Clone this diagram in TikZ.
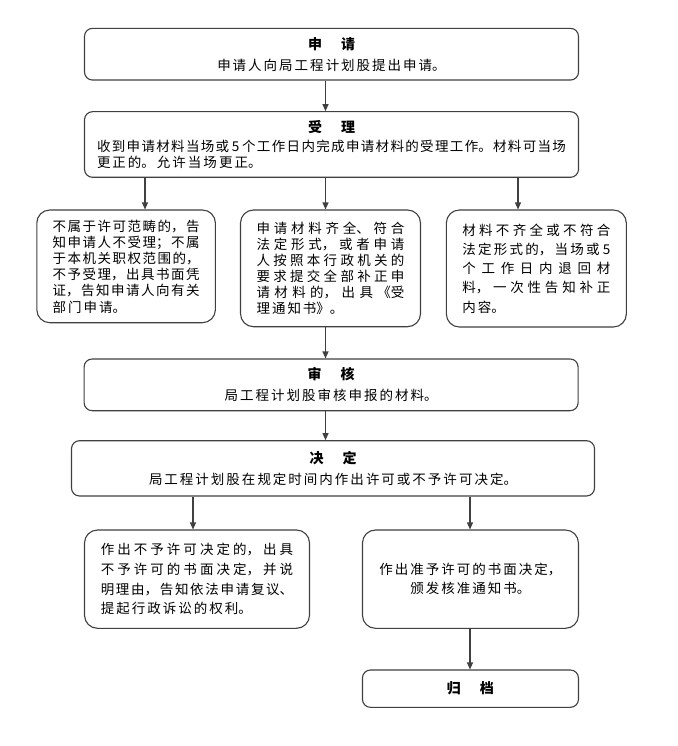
\documentclass[tikz,border=0pt]{standalone}
\usepackage{fontspec}
\setmainfont{Noto Sans CJK SC}
\usepackage{xcolor}
\usepackage{tikz}
\usetikzlibrary{arrows.meta}

\XeTeXlinebreaklocale "zh"
\XeTeXlinebreakskip=2pt plus 5pt minus 2pt
\definecolor{linegray}{HTML}{404040}

\begin{document}
\begin{tikzpicture}[x=1pt, y=-1pt,
        stage/.style={draw=linegray, rounded corners=8pt, line width=1.1pt, inner sep=0pt, align=flush center, minimum width=494pt, text width=494pt, font=\fontsize{13.5}{21}\selectfont},
        note/.style={draw=linegray, rounded corners=13pt, line width=1.1pt, inner sep=0pt, align=justify},
        link/.style={draw=linegray, -{Triangle[length=7pt, width=6pt]}, line width=1.1pt}
        ]

        \path[use as bounding box, fill=white] (0,0) rectangle (677,746);

        % Stages
        \node[stage, minimum height=51.7pt] (apply) at (331.5,54.2) {{\fontsize{14}{21}\selectfont\bfseries 申\hspace{19pt}请}\\申请人向局工程计划股提出申请。};
        \node[stage, minimum height=65.6pt, text width=469pt, align=justify, font=\fontsize{13.5}{15.7}\selectfont] (accept) at (331.5,144.5) {\makebox[\linewidth]{\fontsize{14}{15.7}\selectfont\bfseries 受\hspace{19pt}理}\par\vspace{3.3pt}收到申请材料当场或 5 个工作日内完成申请材料的受理工作。材料可当场\linebreak 更正的。允许当场更正。};

        % Outcomes of acceptance
        \node[note, minimum width=178.6pt, minimum height=112.7pt, text width=147pt, font=\fontsize{13.5}{16.2}\selectfont] (reject) at (126.1,266.35) {不属于许可范畴的，告\linebreak 知申请人不受理；不属\linebreak 于本机关职权范围的，\linebreak 不予受理，出具书面凭\linebreak 证，告知申请人向有关\linebreak 部门申请。};
        \node[note, minimum width=180pt, minimum height=116.7pt, text width=148pt, font=\fontsize{13.5}{15.9}\selectfont] (complete) at (330.5,268.35) {申请材料齐全、符合\linebreak 法定形式，或者申请\linebreak 人按照本行政机关的\linebreak 要求提交全部补正申\linebreak 请材料的，出具《受\linebreak 理通知书》。};
        \node[note, minimum width=180pt, minimum height=117pt, text width=148pt, font=\fontsize{13.5}{19.2}\selectfont] (incomplete) at (536.35,268.5) {材料不齐全或不符合\linebreak 法定形式的，当场或 5\linebreak 个工作日内退回材\linebreak 料，一次性告知补正\linebreak 内容。};

        \node[stage, minimum height=51.7pt] (review) at (331.1,384.85) {{\fontsize{14}{21}\selectfont\bfseries 审\hspace{19pt}核}\\局工程计划股审核申报的材料。};
        \node[stage, minimum width=523pt, text width=523pt, minimum height=55.3pt] (decide) at (333,468.35) {{\fontsize{14}{21}\selectfont\bfseries 决\hspace{19pt}定}\\局工程计划股在规定时间内作出许可或不予许可决定。};

        % Decisions
        \node[note, minimum width=225pt, minimum height=98.3pt, text width=192.4pt, font=\fontsize{13.5}{19.7}\selectfont] (deny) at (197,579.15) {作出不予许可决定的，出具\linebreak 不予许可的书面决定，并说\linebreak 明理由，告知依法申请复议、\linebreak 提起行政诉讼的权利。};
        \node[note, minimum width=216pt, minimum height=98.3pt, text width=216pt, align=flush center, font=\fontsize{13.5}{19.3}\selectfont] (grant) at (470.45,579.15) {作出准予许可的书面决定，\\颁发核准通知书。};
        \node[stage, minimum width=216pt, text width=216pt, minimum height=37.3pt] (archive) at (470.45,688.65) {{\fontsize{14}{21}\selectfont\bfseries 归\hspace{19pt}档}};

        % Arrow columns
        \coordinate (midcol) at (325.5,0);
        \coordinate (leftcol) at (145,0);
        \coordinate (rightcol) at (518,0);
        \coordinate (denycol) at (193,0);
        \coordinate (grantcol) at (470,0);

        % Links
        \draw[link] (apply.south -| midcol) -- (accept.north -| midcol);
        \draw[link] (accept.south -| leftcol) -- (reject.north -| leftcol);
        \draw[link] (accept.south -| midcol) -- (complete.north -| midcol);
        \draw[link] (accept.south -| rightcol) -- (incomplete.north -| rightcol);
        \draw[link] (complete.south -| midcol) -- (review.north -| midcol);
        \draw[link] (review.south -| midcol) -- (decide.north -| midcol);
        \draw[link] (decide.south -| denycol) -- (deny.north -| denycol);
        \draw[link] (decide.south -| grantcol) -- (grant.north -| grantcol);
        \draw[link] (grant.south -| grantcol) -- (archive.north -| grantcol);

    \end{tikzpicture}
\end{document}
